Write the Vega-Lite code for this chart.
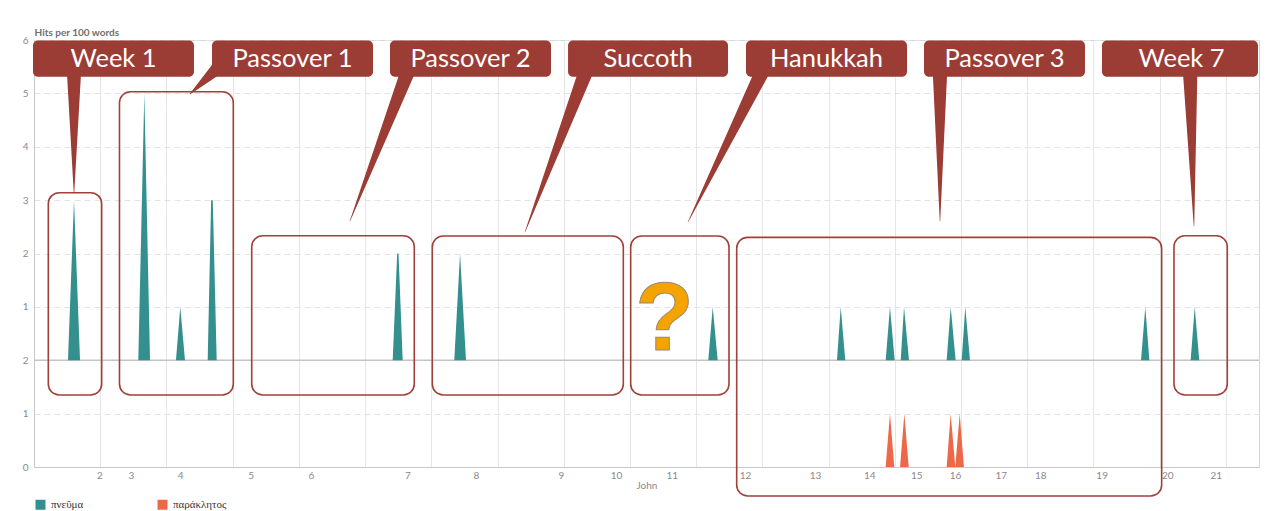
{
  "$schema": "https://vega.github.io/schema/vega-lite/v6.json",
  "width": 1225,
  "height": 427,
  "autosize": {"type": "none"},
  "padding": {"left": 34, "top": 40, "right": 29, "bottom": 44},
  "background": "white",
  "config": {
    "view": {"stroke": "#d4d4d4", "strokeWidth": 1},
    "font": "Lato",
    "axis": {"labelFont": "Lato", "titleFont": "Lato", "labelColor": "#8a8a8a", "titleColor": "#8a8a8a", "labelFontSize": 10, "domainColor": "#c8c8c8", "ticks": false}
  },
  "datasets": {
    "pneuma": [
      {"pos": 0, "hits": 0, "series": "πνεῦμα"},
      {"pos": 5.13, "hits": 0, "series": "πνεῦμα"}, {"pos": 6.04, "hits": 3, "series": "πνεῦμα"}, {"pos": 6.95, "hits": 0, "series": "πνεῦμα"},
      {"pos": 15.75, "hits": 0, "series": "πνεῦμα"}, {"pos": 16.66, "hits": 5, "series": "πνεῦμα"}, {"pos": 17.52, "hits": 0, "series": "πνεῦμα"},
      {"pos": 21.44, "hits": 0, "series": "πνεῦμα"}, {"pos": 22.09, "hits": 1, "series": "πνεῦμα"}, {"pos": 22.8, "hits": 0, "series": "πνεῦμα"},
      {"pos": 26.23, "hits": 0, "series": "πνεῦμα"}, {"pos": 26.75, "hits": 3, "series": "πνεῦμα"}, {"pos": 27.0, "hits": 3, "series": "πνεῦμα"}, {"pos": 27.59, "hits": 0, "series": "πνεῦμα"},
      {"pos": 54.17, "hits": 0, "series": "πνεῦμα"}, {"pos": 54.85, "hits": 2, "series": "πνεῦμα"}, {"pos": 55.05, "hits": 2, "series": "πνεῦμα"}, {"pos": 55.68, "hits": 0, "series": "πνεῦμα"},
      {"pos": 63.47, "hits": 0, "series": "πνεῦμα"}, {"pos": 64.34, "hits": 2, "series": "πνεῦμα"}, {"pos": 65.24, "hits": 0, "series": "πνεῦμα"},
      {"pos": 101.83, "hits": 0, "series": "πνεῦμα"}, {"pos": 102.5, "hits": 1, "series": "πνεῦμα"}, {"pos": 103.25, "hits": 0, "series": "πνεῦμα"},
      {"pos": 121.27, "hits": 0, "series": "πνεῦμα"}, {"pos": 121.83, "hits": 1, "series": "πνεῦμα"}, {"pos": 122.52, "hits": 0, "series": "πνεῦμα"},
      {"pos": 128.62, "hits": 0, "series": "πνεῦμα"}, {"pos": 129.27, "hits": 1, "series": "πνεῦμα"}, {"pos": 129.98, "hits": 0, "series": "πνεῦμα"},
      {"pos": 130.89, "hits": 0, "series": "πνεῦμα"}, {"pos": 131.39, "hits": 1, "series": "πνεῦμα"}, {"pos": 132.14, "hits": 0, "series": "πνεῦμα"},
      {"pos": 137.83, "hits": 0, "series": "πνεῦμα"}, {"pos": 138.44, "hits": 1, "series": "πνεῦμα"}, {"pos": 139.19, "hits": 0, "series": "πνεῦμα"},
      {"pos": 140.1, "hits": 0, "series": "πνεῦμα"}, {"pos": 140.64, "hits": 1, "series": "πνεῦμα"}, {"pos": 141.35, "hits": 0, "series": "πνεῦμα"},
      {"pos": 167.18, "hits": 0, "series": "πνεῦμα"}, {"pos": 167.83, "hits": 1, "series": "πνεῦμα"}, {"pos": 168.44, "hits": 0, "series": "πνεῦμα"},
      {"pos": 174.68, "hits": 0, "series": "πνεῦμα"}, {"pos": 175.29, "hits": 1, "series": "πνεῦμα"}, {"pos": 175.98, "hits": 0, "series": "πνεῦμα"},
      {"pos": 185, "hits": 0, "series": "πνεῦμα"}
    ],
    "paraklete": [
      {"pos": 0, "hits": 0, "series": "παράκλητος"},
      {"pos": 128.62, "hits": 0, "series": "παράκλητος"}, {"pos": 129.27, "hits": 1, "series": "παράκλητος"}, {"pos": 129.92, "hits": 0, "series": "παράκλητος"},
      {"pos": 130.79, "hits": 0, "series": "παράκλητος"}, {"pos": 131.44, "hits": 1, "series": "παράκλητος"}, {"pos": 132.1, "hits": 0, "series": "παράκλητος"},
      {"pos": 137.83, "hits": 0, "series": "παράκλητος"}, {"pos": 138.44, "hits": 1, "series": "παράκλητος"}, {"pos": 139.13, "hits": 0, "series": "παράκλητος"},
      {"pos": 139.8, "hits": 1, "series": "παράκλητος"}, {"pos": 140.44, "hits": 0, "series": "παράκλητος"},
      {"pos": 185, "hits": 0, "series": "παράκλητος"}
    ],
    "callouts": [
      {"name": "Week 1", "bx1": -0.15, "bx2": 24.16, "cx": 12.01, "ox1": 2.16, "ox2": 10.22, "oy1": 5.139, "oy2": 1.349},
      {"name": "Passover 1", "bx1": 26.88, "bx2": 51.2, "cx": 39.04, "ox1": 12.91, "ox2": 30.1, "oy1": 7.031, "oy2": 1.349},
      {"name": "Passover 2", "bx1": 53.76, "bx2": 78.08, "cx": 65.92, "ox1": 32.88, "ox2": 57.43, "oy1": 4.333, "oy2": 1.349},
      {"name": "Succoth", "bx1": 80.65, "bx2": 104.81, "cx": 92.73, "ox1": 60.15, "ox2": 89.0, "oy1": 4.328, "oy2": 1.349},
      {"name": "Hanukkah", "bx1": 107.53, "bx2": 131.84, "cx": 119.68, "ox1": 90.11, "ox2": 104.96, "oy1": 4.328, "oy2": 1.349},
      {"name": "Passover 3", "bx1": 134.41, "bx2": 158.72, "cx": 146.56, "ox1": 106.12, "ox2": 170.3, "oy1": 4.303, "oy2": -0.543},
      {"name": "Week 7", "bx1": 161.29, "bx2": 184.85, "cx": 173.3, "ox1": 172.16, "ox2": 180.21, "oy1": 4.333, "oy2": 1.349}
    ],
    "pointers": [
      {"name": "Week 1", "px": 6.04, "py": 7.53, "t": 0}, {"name": "Week 1", "px": 6.04, "py": 5.133, "t": 1},
      {"name": "Passover 1", "px": 28.4, "py": 7.55, "t": 0}, {"name": "Passover 1", "px": 23.56, "py": 6.988, "t": 1},
      {"name": "Passover 2", "px": 56.78, "py": 7.513, "t": 0}, {"name": "Passover 2", "px": 47.72, "py": 4.609, "t": 1},
      {"name": "Succoth", "px": 83.66, "py": 7.513, "t": 0}, {"name": "Succoth", "px": 74.15, "py": 4.403, "t": 1},
      {"name": "Hanukkah", "px": 110.4, "py": 7.513, "t": 0}, {"name": "Hanukkah", "px": 98.77, "py": 4.59, "t": 1},
      {"name": "Passover 3", "px": 136.82, "py": 7.513, "t": 0}, {"name": "Passover 3", "px": 136.82, "py": 4.609, "t": 1},
      {"name": "Week 7", "px": 174.58, "py": 7.513, "t": 0}, {"name": "Week 7", "px": 175.18, "py": 4.515, "t": 1}
    ],
    "mark": [
      {"sym": "?", "px": 95.22, "py": 2.19}
    ],
    "baseline": [
      {"level": 2}
    ]
  },
  "resolve": {"scale": {"y": "independent"}, "axis": {"x": "independent", "y": "independent"}},
  "layer": [
    {
      "data": {"name": "paraklete"},
      "mark": {"type": "area", "interpolate": "linear"},
      "encoding": {
        "x": {"field": "pos", "type": "quantitative", "scale": {"domain": [0, 185], "nice": false, "zero": false},
          "axis": {"orient": "bottom", "values": [9.86, 14.65, 22.09, 32.73, 41.83, 56.38, 66.75, 79.59, 87.89, 96.31, 107.38, 117.95, 126.15, 133.24, 139.09, 145.99, 151.97, 161.24, 171.15, 178.46],
            "labelExpr": "indexof([9.86, 14.65, 22.09, 32.73, 41.83, 56.38, 66.75, 79.59, 87.89, 96.31, 107.38, 117.95, 126.15, 133.24, 139.09, 145.99, 151.97, 161.24, 171.15, 178.46], datum.value) + 2",
            "grid": false, "title": "John", "titleFontSize": 10, "titleFontWeight": "normal", "titleColor": "#8a8a8a", "titlePadding": 0, "labelPadding": 3, "domain": true}},
        "y": {"field": "hits", "type": "quantitative", "scale": {"domain": [0, 8], "nice": false},
          "axis": {"orient": "left", "values": [0, 1, 2, 3, 4, 5, 6, 7, 8], "labelExpr": "datum.value <= 2 ? datum.value : datum.value - 2",
            "grid": true, "gridDash": [6, 4], "gridColor": "#e3e3e3", "labelPadding": 6,
            "title": "Hits per 100 words", "titleAngle": 0, "titleAlign": "left", "titleBaseline": "alphabetic", "titleX": 0, "titleY": -5,
            "titleFontSize": 10, "titleFontWeight": "bold", "titleColor": "#6f6f6f"}},
        "y2": {"datum": 0},
        "color": {"field": "series", "type": "nominal",
          "scale": {"domain": ["πνεῦμα", "παράκλητος"], "range": ["#33908f", "#ec6848"]},
          "legend": {"orient": "none", "legendX": 1, "legendY": 459, "direction": "horizontal", "title": null,
            "symbolType": "square", "symbolSize": 100, "symbolStrokeWidth": 0, "labelFont": "Liberation Serif", "labelFontSize": 11,
            "labelColor": "#333333", "columnPadding": 73, "labelOffset": 5}}
      }
    },
    {
      "data": {"name": "baseline"},
      "mark": {"type": "rule", "color": "#c4c4c4", "strokeWidth": 1.5},
      "encoding": {"y": {"field": "level", "type": "quantitative", "scale": {"domain": [0, 8], "nice": false}, "axis": null}}
    },
    {
      "data": {"name": "pneuma"},
      "mark": {"type": "area", "interpolate": "linear"},
      "encoding": {
        "x": {"field": "pos", "type": "quantitative",
          "axis": {"orient": "bottom", "values": [0, 10, 20, 30, 40, 50, 60, 70, 80, 90, 100, 110, 120, 130, 140, 150, 160, 170, 180],
            "labels": false, "grid": true, "gridColor": "#e6e6e6", "domain": false, "title": null}},
        "y": {"field": "hits", "type": "quantitative", "scale": {"domain": [-2, 6], "nice": false}, "axis": null},
        "y2": {"datum": 0},
        "color": {"field": "series", "type": "nominal"}
      }
    },
    {
      "data": {"name": "callouts"},
      "mark": {"type": "rect", "fill": null, "fillOpacity": 0, "stroke": "#a13f38", "strokeWidth": 1.6, "cornerRadius": 11},
      "encoding": {
        "x": {"field": "ox1", "type": "quantitative", "axis": null},
        "x2": {"field": "ox2"},
        "y": {"field": "oy1", "type": "quantitative", "scale": {"domain": [0, 8], "nice": false}, "axis": null},
        "y2": {"field": "oy2"}
      }
    },
    {
      "data": {"name": "pointers"},
      "mark": {"type": "trail", "color": "#9b3c35"},
      "encoding": {
        "x": {"field": "px", "type": "quantitative", "axis": null},
        "y": {"field": "py", "type": "quantitative", "scale": {"domain": [0, 8], "nice": false}, "axis": null},
        "detail": {"field": "name"},
        "order": {"field": "t"},
        "size": {"field": "t", "type": "quantitative", "scale": {"domain": [0, 1], "range": [15, 0.5]}, "legend": null}
      }
    },
    {
      "data": {"name": "callouts"},
      "mark": {"type": "rect", "color": "#9b3c35", "cornerRadius": 5},
      "encoding": {
        "x": {"field": "bx1", "type": "quantitative", "axis": null},
        "x2": {"field": "bx2"},
        "y": {"datum": 7.99, "type": "quantitative", "scale": {"domain": [0, 8], "nice": false}, "axis": null},
        "y2": {"datum": 7.31}
      }
    },
    {
      "data": {"name": "callouts"},
      "mark": {"type": "text", "color": "white", "font": "Lato", "fontSize": 25.5, "baseline": "middle", "align": "center"},
      "encoding": {
        "x": {"field": "cx", "type": "quantitative", "axis": null},
        "y": {"datum": 7.64, "type": "quantitative", "scale": {"domain": [0, 8], "nice": false}, "axis": null},
        "text": {"field": "name"}
      }
    },
    {
      "data": {"name": "mark"},
      "mark": {"type": "text", "fill": "#f5a300", "stroke": "#9a8a70", "strokeWidth": 1, "font": "Liberation Sans", "fontWeight": "bold", "fontSize": 96, "baseline": "alphabetic", "align": "center"},
      "encoding": {
        "x": {"field": "px", "type": "quantitative", "axis": null},
        "y": {"field": "py", "type": "quantitative", "scale": {"domain": [0, 8], "nice": false}, "axis": null},
        "text": {"field": "sym"}
      }
    }
  ]
}
